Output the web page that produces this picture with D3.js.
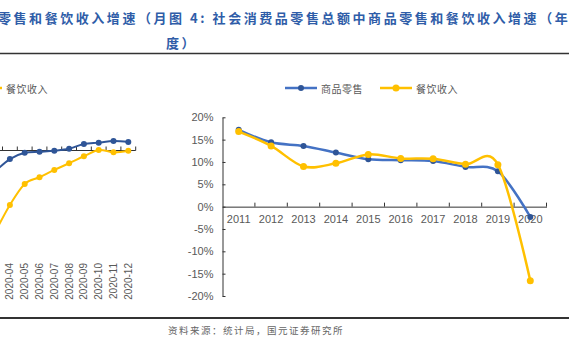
<!DOCTYPE html>
<html>
<head>
<meta charset="utf-8">
<script src="https://cdn.jsdelivr.net/npm/d3@7"></script>
<style>
  body { margin: 0; background: #fff; }
  svg { display: block; }
</style>
</head>
<body>
<svg id="chart" width="569" height="344"></svg>
<script>
// Datos anuales (gráfico derecho)
const years = ['2011', '2012', '2013', '2014', '2015', '2016', '2017', '2018', '2019', '2020']
const goodsYearly = [17.2, 14.4, 13.6, 12.1, 10.6, 10.4, 10.2, 8.9, 7.9, -2.3]
const cateringYearly = [16.8, 13.6, 9.0, 9.7, 11.7, 10.8, 10.7, 9.5, 9.4, -16.6]
const yTicks = [20, 15, 10, 5, 0, -5, -10, -15, -20]

// Datos mensuales (gráfico izquierdo, recortado)
const months = ['2020-03', '2020-04', '2020-05', '2020-06', '2020-07', '2020-08', '2020-09', '2020-10', '2020-11', '2020-12']
const goodsMonthly = [-12.0, -4.9, -1.3, -0.7, -0.1, 1.0, 3.7, 4.5, 5.4, 4.9]
const cateringMonthly = [-46.8, -31.1, -19.1, -15.3, -11.1, -7.3, -3.3, 0.3, -1.0, -0.1]

const seriesNames = ['商品零售', '餐饮收入']
const titleLine1 = '零售和餐饮收入增速（月图 4: 社会消费品零售总额中商品零售和餐饮收入增速（年'
const titleLine2 = '度）'
const sourceText = '资料来源：统计局，国元证券研究所'

const blue = '#4472C4'
const blueDark = '#2F5597'
const yellow = '#FFC000'
const grey = '#595959'
const cjk = '"Noto Sans CJK SC", sans-serif'
const latin = '"Liberation Sans", Arial, sans-serif'

const svg = d3.select('#chart')

// Título
svg.append('text')
    .attr('x', -2).attr('y', 17)
    .attr('dominant-baseline', 'central')
    .style('font-family', cjk).style('font-size', '13px').style('font-weight', 'bold')
    .style('letter-spacing', '2.55px')
    .attr('fill', '#2F5DA8')
    .text(titleLine1)
svg.append('text')
    .attr('x', 166).attr('y', 42)
    .attr('dominant-baseline', 'central')
    .style('font-family', cjk).style('font-size', '13px').style('font-weight', 'bold')
    .style('letter-spacing', '2.55px')
    .attr('fill', '#2F5DA8')
    .text(titleLine2)

// Líneas del marco
svg.append('line').attr('x1', 0).attr('x2', 569).attr('y1', 53.5).attr('y2', 53.5)
    .attr('stroke', '#333').attr('stroke-width', 1.5)
svg.append('line').attr('x1', 0).attr('x2', 569).attr('y1', 318).attr('y2', 318)
    .attr('stroke', '#333').attr('stroke-width', 2)

svg.append('text')
    .attr('x', 168).attr('y', 330)
    .attr('dominant-baseline', 'central')
    .style('font-family', cjk).style('font-size', '9.5px').style('letter-spacing', '1.5px')
    .attr('fill', '#666')
    .text(sourceText)

const curve = d3.curveCatmullRom.alpha(0)

// ---------- Gráfico derecho ----------
const x = d3.scaleBand().domain(years).range([222.5, 546.5])
const y = d3.scaleLinear().domain([-20, 20]).range([296, 117.3])

svg.append('g')
    .attr('transform', `translate(${x.range()[0]}, 0)`)
    .call(d3.axisLeft(y).tickValues(yTicks).tickSize(-3).tickSizeOuter(0).tickPadding(9)
        .tickFormat(d => d + '%'))
    .call(g => g.selectAll('path, line').attr('stroke', '#333'))
    .call(g => g.selectAll('text').attr('fill', grey).style('font-family', latin).style('font-size', '11px'))

const xAxis = svg.append('g')
    .attr('transform', `translate(0, ${y(0)})`)
    .call(d3.axisBottom(x).tickSize(0).tickPadding(9))
    .call(g => g.select('path').attr('stroke', '#333'))
    .call(g => g.selectAll('text').attr('fill', grey).style('font-family', latin).style('font-size', '11px'))
xAxis.selectAll('line.bound')
    .data(years)
    .enter().append('line')
    .attr('class', 'bound')
    .attr('x1', d => x(d) + x.bandwidth()).attr('x2', d => x(d) + x.bandwidth())
    .attr('y1', 0).attr('y2', -4)
    .attr('stroke', '#333')

const rightSeries = [
    { name: seriesNames[0], values: goodsYearly, line: blue, dot: blueDark, r: 3 },
    { name: seriesNames[1], values: cateringYearly, line: yellow, dot: yellow, r: 3.5 }
]
const lineR = d3.line()
    .x((d, i) => x(years[i]) + x.bandwidth() / 2)
    .y(d => y(d))
    .curve(curve)

rightSeries.forEach(s => {
    svg.append('path')
        .attr('d', lineR(s.values))
        .attr('fill', 'none').attr('stroke', s.line).attr('stroke-width', 2.5)
    svg.selectAll(null)
        .data(s.values)
        .enter().append('circle')
        .attr('cx', (d, i) => x(years[i]) + x.bandwidth() / 2)
        .attr('cy', d => y(d))
        .attr('r', s.r)
        .attr('fill', s.dot)
})

// Leyenda derecha
const legendX = [285, 380]
rightSeries.forEach((s, i) => {
    const g = svg.append('g').attr('transform', `translate(${legendX[i]}, 88)`)
    g.append('line').attr('x1', 0).attr('x2', 32).attr('stroke', s.line).attr('stroke-width', 2.5)
    g.append('circle').attr('cx', 16).attr('r', s.r).attr('fill', s.dot)
    g.append('text').attr('x', 36).attr('dominant-baseline', 'central')
        .style('font-family', cjk).style('font-size', '10px').style('letter-spacing', '0.5px')
        .attr('fill', grey).text(s.name)
})

// ---------- Gráfico izquierdo (recortado) ----------
const xL = d3.scaleBand().domain(months).range([-12.3, 135.7])
const yL = d3.scaleLinear().domain([-60, 20]).range([255.5, 115.5])

const xAxisL = svg.append('g').attr('transform', `translate(0, ${yL(0)})`)
xAxisL.append('line').attr('x1', xL.range()[0]).attr('x2', xL.range()[1]).attr('stroke', '#333')
xAxisL.selectAll('line.bound')
    .data(months)
    .enter().append('line')
    .attr('class', 'bound')
    .attr('x1', d => xL(d) + xL.bandwidth()).attr('x2', d => xL(d) + xL.bandwidth())
    .attr('y1', 0).attr('y2', -4)
    .attr('stroke', '#333')

svg.selectAll('text.month')
    .data(months)
    .enter().append('text')
    .attr('class', 'month')
    .attr('transform', d => `translate(${xL(d) + xL.bandwidth() / 2}, 263) rotate(-90)`)
    .attr('text-anchor', 'end')
    .attr('dominant-baseline', 'central')
    .style('font-family', latin).style('font-size', '10px')
    .attr('fill', grey)
    .text(d => d)

const leftSeries = [
    { values: goodsMonthly, color: blueDark },
    { values: cateringMonthly, color: yellow }
]
const lineL = d3.line()
    .x((d, i) => xL(months[i]) + xL.bandwidth() / 2)
    .y(d => yL(d))
    .curve(curve)

leftSeries.forEach(s => {
    svg.append('path')
        .attr('d', lineL(s.values))
        .attr('fill', 'none').attr('stroke', s.color).attr('stroke-width', 2)
    svg.selectAll(null)
        .data(s.values)
        .enter().append('circle')
        .attr('cx', (d, i) => xL(months[i]) + xL.bandwidth() / 2)
        .attr('cy', d => yL(d))
        .attr('r', 3)
        .attr('fill', s.color)
})

// Leyenda izquierda (cortada)
svg.append('line').attr('x1', -20).attr('x2', 2).attr('y1', 88).attr('y2', 88)
    .attr('stroke', yellow).attr('stroke-width', 2.5)
svg.append('text').attr('x', 6).attr('y', 88).attr('dominant-baseline', 'central')
    .style('font-family', cjk).style('font-size', '10px').style('letter-spacing', '0.5px')
    .attr('fill', grey).text(seriesNames[1])
</script>
</body>
</html>
